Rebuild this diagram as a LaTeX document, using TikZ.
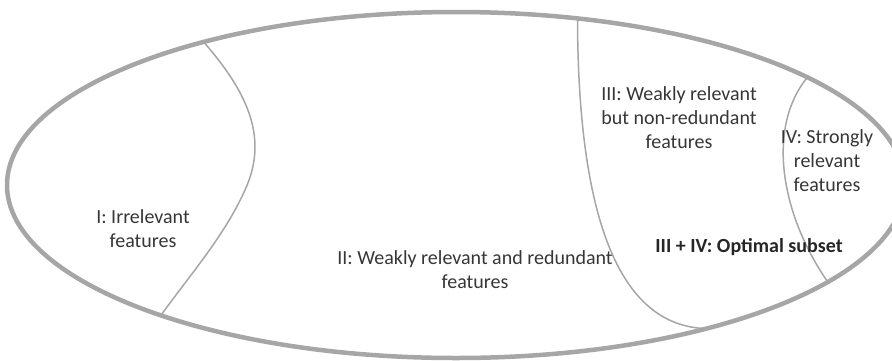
\documentclass[tikz,border=0pt]{standalone}
\usepackage{fontspec}
\setmainfont{Carlito}
\usepackage{tikz}
\definecolor{rimgray}{HTML}{A6A6A6}
\definecolor{labelgray}{HTML}{363636}
\tikzset{%
  region/.style={align=center,text=labelgray,inner sep=0pt,%
    font=\fontsize{20}{24}\selectfont},%
  split/.style={draw=rimgray,line width=1.5pt}%
}

\begin{document}
\begin{tikzpicture}[x=1pt,y=-1pt]
    \useasboundingbox (0,0) rectangle (892,360);
    \draw[rimgray,line width=4.5pt] (456,185) ellipse [x radius=449,y radius=173];
    % where the boundaries meet the rim
    \coordinate (a1) at ([shift={(456,185)}]-124.2:449 and 173);
    \coordinate (a2) at ([shift={(456,185)}]131.1:449 and 173);
    \coordinate (b1) at ([shift={(456,185)}]-74.3:449 and 173);
    \coordinate (b2) at ([shift={(456,185)}]56.1:449 and 173);
    \coordinate (c1) at ([shift={(456,185)}]-38.5:449 and 173);
    \coordinate (c2) at ([shift={(456,185)}]34.1:449 and 173);
    % boundaries between the regions
    \draw[split] (a1) .. controls (250,95) and (268,140) .. (245,190)
      .. controls (225,235) and (190,275) .. (a2);
    \draw[split] (b1) .. controls (578,200) and (612,326) .. (b2);
    \draw[split] (c1) .. controls (768,125) and (778,210) .. (c2);
    % labels
    \node[region] (irr) at (143,229) {I: Irrelevant\\features};
    \node[region] (weakred) at (475,270) {II: Weakly relevant and redundant\\features};
    \node[region] (weaknonred) at (679,118) {III: Weakly relevant\\but non-redundant\\features};
    \node[region] (strong) at (827,161) {IV: Strongly\\relevant\\features};
    \node[region,font=\fontsize{20}{24}\selectfont\bfseries,text=black!85] (optimal) at (749,247) {III + IV: Optimal subset};
\end{tikzpicture}
\end{document}
